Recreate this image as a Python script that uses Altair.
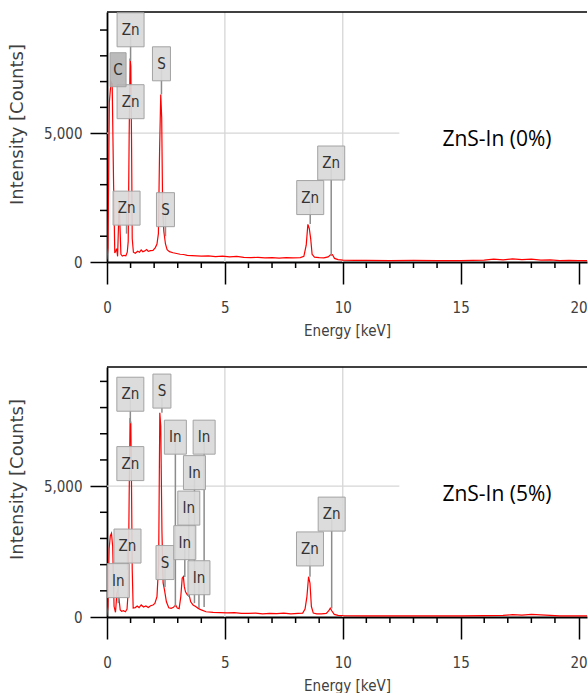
import altair as alt
import pandas as pd

# ---------------- data: ZnS-In (0%) spectrum ----------------
e0 = [0.00, 0.04, 0.10, 0.17, 0.22, 0.28, 0.33, 0.38, 0.41, 0.45, 0.49, 0.52, 0.55, 0.59,
      0.65, 0.72, 0.80, 0.86, 0.90, 0.94, 0.98, 1.01, 1.04, 1.07, 1.12, 1.20, 1.30, 1.38,
      1.45, 1.52, 1.60, 1.68, 1.75, 1.85, 1.95, 2.05, 2.12, 2.18, 2.23, 2.28, 2.32, 2.36,
      2.41, 2.48, 2.55, 2.65, 2.80, 2.95, 3.10, 3.25, 3.40, 3.60, 3.80, 4.00, 4.30, 4.60,
      4.90, 5.20, 5.50, 5.80, 6.10, 6.40, 6.70, 7.00, 7.30, 7.60, 7.90, 8.20, 8.35, 8.45,
      8.52, 8.58, 8.64, 8.70, 8.80, 9.00, 9.20, 9.38, 9.48, 9.56, 9.65, 9.80, 10.0, 10.5,
      11.0, 12.0, 13.0, 14.0, 15.0, 16.0, 16.4, 16.8, 17.2, 17.6, 18.0, 18.4, 18.8, 19.2,
      19.6, 20.0, 20.4]
c0 = [100, 550, 6200, 7000, 6900, 3000, 350, 450, 520, 220, 1500, 2300, 1400, 300,
      230, 260, 240, 380, 800, 4900, 7900, 7600, 4800, 900, 380, 340, 420, 380,
      470, 400, 430, 480, 410, 440, 450, 560, 700, 1100, 4300, 6500, 5600, 2100,
      1200, 700, 480, 400, 360, 330, 300, 290, 260, 250, 240, 230, 240, 210,
      230, 200, 220, 180, 170, 180, 160, 170, 150, 170, 160, 170, 220, 650,
      1460, 1300, 900, 300, 190, 170, 160, 200, 280, 290, 140, 90, 70, 60,
      65, 55, 60, 50, 55, 70, 110, 80, 120, 90, 110, 70, 80, 50,
      60, 50, 50]

# ---------------- data: ZnS-In (5%) spectrum ----------------
e5 = [0.00, 0.04, 0.09, 0.14, 0.19, 0.24, 0.30, 0.36, 0.42, 0.47, 0.52, 0.56, 0.62, 0.70,
      0.78, 0.85, 0.90, 0.94, 0.98, 1.01, 1.04, 1.07, 1.11, 1.20, 1.28, 1.36, 1.45, 1.55,
      1.65, 1.75, 1.85, 1.95, 2.03, 2.12, 2.19, 2.24, 2.28, 2.33, 2.38, 2.44, 2.52, 2.62,
      2.72, 2.82, 2.91, 2.98, 3.06, 3.13, 3.19, 3.24, 3.28, 3.33, 3.41, 3.47, 3.55, 3.65,
      3.76, 3.87, 4.00, 4.20, 4.50, 4.80, 5.10, 5.40, 5.70, 6.00, 6.30, 6.60, 6.90, 7.20,
      7.50, 7.80, 8.10, 8.30, 8.40, 8.48, 8.55, 8.61, 8.67, 8.75, 8.90, 9.10, 9.30, 9.40,
      9.47, 9.54, 9.64, 9.80, 10.0, 11.0, 12.0, 13.0, 14.0, 15.0, 16.0, 16.8, 17.2, 17.6,
      18.0, 18.4, 18.8, 19.2, 20.0, 20.4]
c5 = [50, 400, 2600, 3100, 3200, 2700, 400, 180, 900, 1050, 600, 270, 220, 240,
      200, 300, 1000, 4600, 7600, 7400, 5000, 1800, 340, 360, 420, 360, 460, 380,
      420, 360, 430, 460, 520, 780, 2000, 7800, 7300, 3300, 1300, 1030, 580, 350,
      330, 370, 460, 340, 320, 780, 1480, 1540, 1160, 960, 840, 900, 580, 460,
      400, 330, 270, 200, 180, 170, 160, 170, 140, 140, 150, 120, 140, 130,
      150, 120, 140, 150, 300, 780, 1540, 1290, 400, 150, 120, 120, 140, 230,
      340, 230, 100, 60, 50, 45, 40, 45, 40, 40, 50, 60, 90, 70,
      100, 80, 60, 40, 40, 40]

# ---------------- peak labels ----------------
lab0_text = ["Zn", "C", "Zn", "S", "Zn", "S", "Zn", "Zn"]
lab0_x = [1.00, 0.47, 1.00, 2.31, 0.83, 2.48, 8.62, 9.51]
lab0_y = [9010, 7460, 6220, 7690, 2090, 2030, 2500, 3840]
lab0_peak = [7800, 7460, 6220, 6500, 1100, 1000, 1470, 230]

lab5_text = ["Zn", "S", "Zn", "Zn", "In", "S", "In", "In", "In", "In", "In", "In", "Zn", "Zn"]
lab5_x = [0.99, 2.33, 0.99, 0.87, 0.48, 2.46, 2.90, 4.12, 3.71, 3.47, 3.30, 3.90, 8.61, 9.53]
lab5_y = [8510, 8630, 5860, 2710, 1390, 2080, 6870, 6870, 5515, 4160, 2840, 1500, 2600, 3930]
lab5_peak = [7400, 7800, 5860, 1800, 530, 1150, 380, 380, 530, 760, 1530, 340, 1540, 330]

x_ticks = [0, 5, 10, 15, 20]
x_minor = [1, 2, 3, 4, 6, 7, 8, 9, 11, 12, 13, 14, 16, 17, 18, 19]
y_ticks = [0, 5000]
y_minor = [1000, 2000, 3000, 4000, 6000, 7000, 8000, 9000]
x_grid = [5, 10]

FONT_N = "DejaVu Sans Condensed, sans-serif"
W, H = 480, 250
XMAX = 20.36


def panel(e, c, lt, lx, ly, lp, ymax, title):
    xs = alt.Scale(domain=[0, XMAX], nice=False, zero=False)
    ys = alt.Scale(domain=[0, ymax], nice=False)
    spec = pd.DataFrame({"e": e, "c": c})
    labs = pd.DataFrame({"t": lt, "x": lx, "y": ly, "p": lp})
    dummy = pd.DataFrame({"d": [0]})

    xa = alt.Axis(values=x_ticks, labelExpr="format(datum.value, 'd')", tickSize=22,
                  tickWidth=1.5, tickColor="black",
                  domainColor="black", domainWidth=1.8, labelFont=FONT_N, labelFontSize=15,
                  labelColor="#404040", labelPadding=16, labelFlush=False, labelOverlap=False,
                  title="Energy [keV]", titleFont=FONT_N, titleFontSize=15,
                  titleFontWeight="normal", titleColor="#404040", titlePadding=8, grid=False)
    ya = alt.Axis(values=y_ticks, labelExpr="format(datum.value, ',')", tickSize=17,
                  tickWidth=1.5, tickColor="black",
                  domainColor="black", domainWidth=1.8, labelFont=FONT_N, labelFontSize=15,
                  labelColor="#404040", labelPadding=8, labelFlush=False,
                  title="Intensity [Counts]", titleFont="DejaVu Sans", titleFontSize=18,
                  titleFontWeight="normal", titleColor="#404040", titleBaseline="alphabetic",
                  titleX=-85, titleY=112, grid=False)

    def X(f):
        return alt.X(f, scale=xs, axis=xa)

    def Y(f):
        return alt.Y(f, scale=ys, axis=ya)

    line = alt.Chart(spec).mark_line(color="#ff0000", strokeWidth=1.2, clip=True).encode(
        x=X("e:Q"), y=Y("c:Q"), order="e:Q")
    gridv = alt.Chart(pd.DataFrame({"g": x_grid})).mark_rule(color="#d6d6d6", strokeWidth=1.3).encode(
        x=X("g:Q"), y=alt.value(0), y2=alt.value(H))
    gridh = alt.Chart(pd.DataFrame({"y": [5000], "x1": [0.0], "x2": [12.4]})).mark_rule(
        color="#d6d6d6", strokeWidth=1.3).encode(x=X("x1:Q"), x2="x2:Q", y=Y("y:Q"))
    ymin = alt.Chart(pd.DataFrame({"v": y_minor})).mark_rule(color="black", strokeWidth=1.5).encode(
        y=Y("v:Q"), x=alt.value(-7), x2=alt.value(0))
    xmin = alt.Chart(pd.DataFrame({"v": x_minor})).mark_rule(color="black", strokeWidth=1.5).encode(
        x=X("v:Q"), y=alt.value(H), y2=alt.value(H + 6))
    border = alt.Chart(dummy).mark_rule(color="black", strokeWidth=1.5).encode(
        x=alt.value(0), x2=alt.value(W), y=alt.value(0))
    ptr = alt.Chart(labs).mark_rule(color="#8c8c8c", strokeWidth=1.5).encode(
        x=X("x:Q"), y=Y("p:Q"), y2="y:Q")

    layers = [gridv, gridh, ymin, xmin, border, line, ptr]
    for el, hw, fill in [("Zn", 13.5, "#d9d9d9"), ("S", 9, "#d9d9d9"),
                         ("In", 11, "#d9d9d9"), ("C", 8, "#b5b5b5")]:
        layers.append(
            alt.Chart(labs).transform_filter(alt.datum.t == el).mark_rect(
                xOffset=-hw, x2Offset=hw, yOffset=-17, y2Offset=17, fill=fill,
                stroke="#a3a3a3", strokeWidth=1, fillOpacity=0.92).encode(
                x=X("x:Q"), x2="x:Q", y=Y("y:Q"), y2="y:Q"))
    txt = alt.Chart(labs).mark_text(font=FONT_N, fontSize=15, color="#333333",
                                    baseline="middle", align="center").encode(
        x=X("x:Q"), y=Y("y:Q"), text="t:N")
    ttl = alt.Chart(pd.DataFrame({"t": [title]})).mark_text(
        font="Open Sans", fontSize=21, color="black", align="center", baseline="middle").encode(
        x=alt.value(390), y=alt.value(128), text="t:N")
    layers += [txt, ttl]
    return alt.layer(*layers).properties(width=W, height=H)


top = panel(e0, c0, lab0_text, lab0_x, lab0_y, lab0_peak, 9700, "ZnS-In (0%)")
bottom = panel(e5, c5, lab5_text, lab5_x, lab5_y, lab5_peak, 9550, "ZnS-In (5%)")

chart = alt.vconcat(top, bottom, spacing=28).properties(
    padding={"left": 7, "top": 11, "right": 0, "bottom": 0},
    background="white",
).configure_view(stroke=None)

chart.save("out.html", embed_options={"renderer": "svg", "actions": False})
